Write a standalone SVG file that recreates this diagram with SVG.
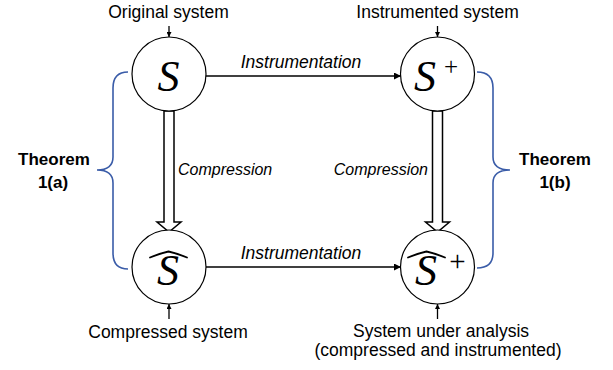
<svg xmlns="http://www.w3.org/2000/svg" width="613" height="370" viewBox="0 0 613 370">
  <defs>
    <marker id="head" viewBox="0 0 10 10" refX="10" refY="5" markerWidth="8" markerHeight="7" markerUnits="userSpaceOnUse" orient="auto">
      <path d="M0,0 L10,5 L0,10 z" fill="#000"/>
    </marker>
    <marker id="tick" viewBox="0 0 10 10" refX="10" refY="5" markerWidth="6" markerHeight="5" markerUnits="userSpaceOnUse" orient="auto">
      <path d="M0,0 L10,5 L0,10 z" fill="#000"/>
    </marker>
    <style>
      .node { fill: #fff; stroke: #000; stroke-width: 1.2; }
      .math { font-family: "Liberation Serif", "DejaVu Serif", serif; font-style: italic; font-size: 44px; fill: #000; }
      .plus { font-family: "Liberation Serif", "DejaVu Serif", serif; fill: #000; }
      .hat { fill: none; stroke: #000; stroke-width: 1.8; stroke-linecap: round; stroke-linejoin: round; }
      .label { font-family: "Liberation Sans", Arial, sans-serif; font-size: 17.5px; fill: #000; }
      .edge { font-family: "Liberation Sans", Arial, sans-serif; font-style: italic; fill: #000; }
      .thm { font-family: "Liberation Sans", Arial, sans-serif; font-size: 17px; font-weight: bold; fill: #000; }
      .line { fill: none; stroke: #000; stroke-width: 1.3; }
      .block { fill: #fff; stroke: #000; stroke-width: 1.5; stroke-linejoin: miter; }
      .brace { fill: none; stroke: #3a5ca8; stroke-width: 1.6; }
    </style>
  </defs>

  <!-- connectors -->
  <g id="connectors">
    <line class="line" x1="206" y1="76" x2="401" y2="76" marker-end="url(#head)"/>
    <line class="line" x1="206" y1="267" x2="401" y2="267" marker-end="url(#head)"/>
    <polygon class="block" points="164,111 174,111 174,222 181,222 169,232 157,222 164,222"/>
    <polygon class="block" points="432.5,111 442.5,111 442.5,222 449.5,222 437.5,232 425.5,222 432.5,222"/>
    <line class="line" x1="169" y1="26" x2="169" y2="37" marker-end="url(#tick)"/>
    <line class="line" x1="437.5" y1="26" x2="437.5" y2="37" marker-end="url(#tick)"/>
    <line class="line" x1="169" y1="319" x2="169" y2="304" marker-end="url(#tick)"/>
    <line class="line" x1="437.5" y1="319" x2="437.5" y2="304" marker-end="url(#tick)"/>
    <text class="edge" x="301" y="68" text-anchor="middle" font-size="17.5">Instrumentation</text>
    <text class="edge" x="301" y="259" text-anchor="middle" font-size="17.5">Instrumentation</text>
    <text class="edge" x="178" y="175" font-size="16">Compression</text>
    <text class="edge" x="428" y="175" text-anchor="end" font-size="16">Compression</text>
  </g>

  <!-- original system S -->
  <g id="node-s">
    <circle class="node" cx="169" cy="74" r="37"/>
    <text class="math" x="168.5" y="91" text-anchor="middle">S</text>
    <text class="label" x="168.5" y="18" text-anchor="middle">Original system</text>
  </g>

  <!-- instrumented system S+ -->
  <g id="node-s-plus">
    <circle class="node" cx="437.5" cy="74" r="37"/>
    <text class="math" x="425" y="91" text-anchor="middle">S</text>
    <text class="plus" x="451" y="75" text-anchor="middle" font-size="25">+</text>
    <text class="label" x="437.5" y="18" text-anchor="middle">Instrumented system</text>
  </g>

  <!-- compressed system S-hat -->
  <g id="node-s-hat">
    <circle class="node" cx="169" cy="267" r="37"/>
    <path class="hat" d="M150,257.5 Q160,253.5 168.5,251.5 Q177,253.5 187,257.5"/>
    <text class="math" x="168" y="285" text-anchor="middle">S</text>
    <text class="label" x="168" y="338" text-anchor="middle">Compressed system</text>
  </g>

  <!-- system under analysis S-hat+ -->
  <g id="node-s-hat-plus">
    <circle class="node" cx="437.5" cy="267" r="37"/>
    <path class="hat" d="M408,257.5 Q418,253.5 426.5,251.5 Q435,253.5 445,257.5"/>
    <text class="math" x="426" y="285" text-anchor="middle">S</text>
    <text class="plus" x="457.5" y="271" text-anchor="middle" font-size="29">+</text>
    <text class="label" x="441" y="337" text-anchor="middle">System under analysis</text>
    <text class="label" x="438" y="356" text-anchor="middle">(compressed and instrumented)</text>
  </g>

  <!-- Theorem 1(a) brace -->
  <g id="theorem-a">
    <path class="brace" d="M128,72 Q113,72 113,88 L113,157 Q113,170 97,170 Q113,170 113,183 L113,253 Q113,269 128,269"/>
    <text class="thm" x="54" y="165" text-anchor="middle">Theorem</text>
    <text class="thm" x="53" y="188" text-anchor="middle">1(a)</text>
  </g>

  <!-- Theorem 1(b) brace -->
  <g id="theorem-b">
    <path class="brace" d="M477,72 Q493,72 493,88 L493,157 Q493,170 510,170 Q493,170 493,183 L493,253 Q493,268 477,268"/>
    <text class="thm" x="555" y="165" text-anchor="middle">Theorem</text>
    <text class="thm" x="555" y="188" text-anchor="middle">1(b)</text>
  </g>
</svg>
